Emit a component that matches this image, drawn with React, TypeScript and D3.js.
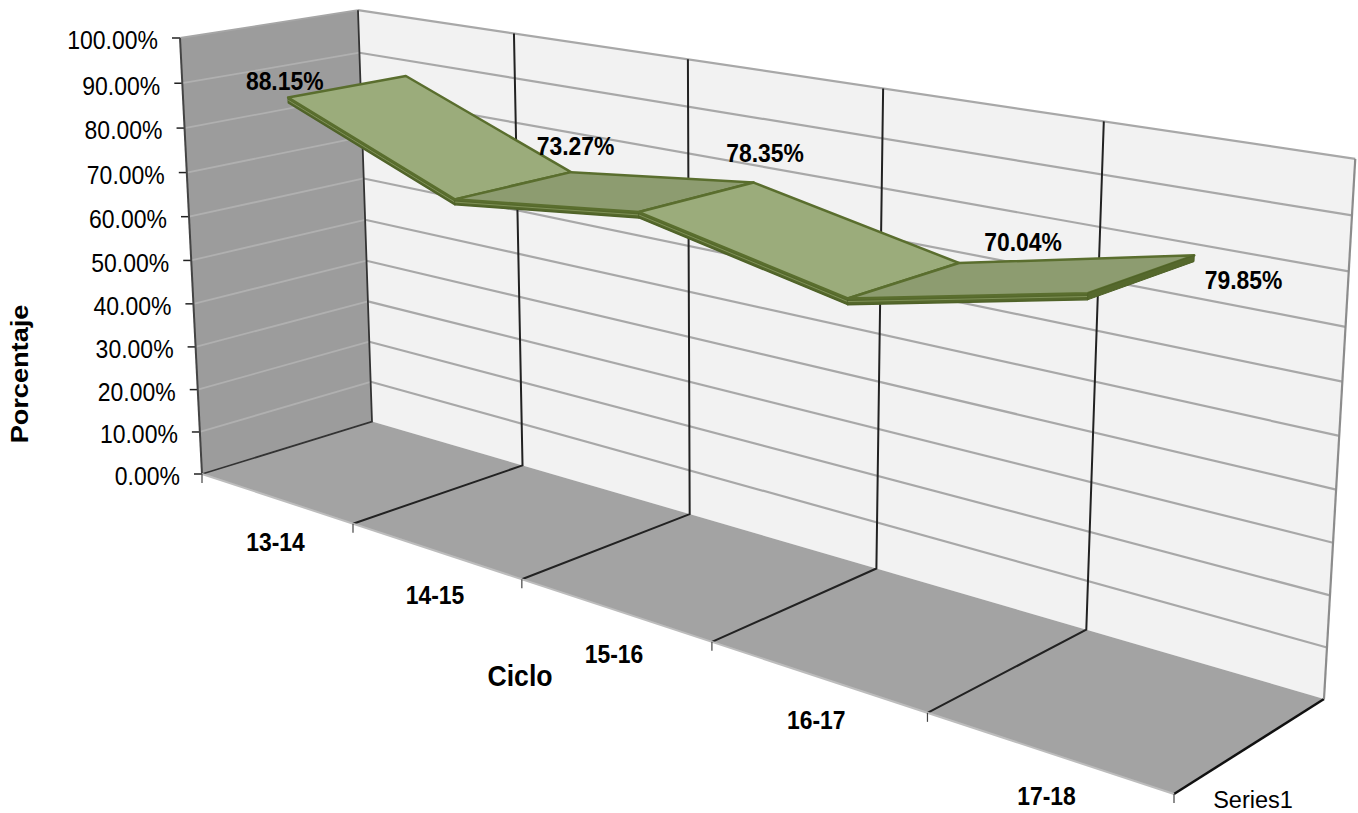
import * as d3 from "d3";

const categories = ["13-14", "14-15", "15-16", "16-17", "17-18"];
const values = [88.15, 73.27, 78.35, 70.04, 79.85];
const valueLabels = ["88.15%", "73.27%", "78.35%", "70.04%", "79.85%"];
const yTicks = [0, 10, 20, 30, 40, 50, 60, 70, 80, 90, 100];

type P = [number, number];

// corners of the 3D box as they land on the page
const FLb: P = [202, 474];
const FRb: P = [1174, 794];
const BLb: P = [372, 421.5];
const BRb: P = [1324, 699];
const FLt: P = [180, 38];
const BLt: P = [358, 10.5];

function meet(a: P, b: P, c: P, d: P): P {
  const d1 = [b[0] - a[0], b[1] - a[1]];
  const d2 = [d[0] - c[0], d[1] - c[1]];
  const den = d1[0] * d2[1] - d1[1] * d2[0];
  const t = ((c[0] - a[0]) * d2[1] - (c[1] - a[1]) * d2[0]) / den;
  return [a[0] + t * d1[0], a[1] + t * d1[1]];
}

const vx = meet(FLb, FRb, BLb, BRb);
const vy = meet(FLb, FLt, BLb, BLt);
const vz = meet(FLb, BLb, FRb, BRb);
const wx = (FRb[0] - FLb[0]) / (vx[0] - FRb[0]);
const wy = (FLt[1] - FLb[1]) / (vy[1] - FLt[1]);
const wz = (BLb[1] - FLb[1]) / (vz[1] - BLb[1]);

// u, v, w are all 0..1 inside the box
function project(u: number, v: number, w: number): P {
  const h = 1 + u * wx + v * wy + w * wz;
  return [
    (FLb[0] + u * wx * vx[0] + v * wy * vy[0] + w * wz * vz[0]) / h,
    (FLb[1] + u * wx * vx[1] + v * wy * vy[1] + w * wz * vz[1]) / h,
  ];
}

const xBand = d3.scaleBand<string>().domain(categories).range([0, 1]);
const xEdge = (i: number) => i * xBand.step();
const xMid = (i: number) => xBand(categories[i])! + xBand.bandwidth() / 2;
const yScale = d3.scaleLinear().domain([0, 100]).range([0, 1]);

const RIBBON_FRONT = 0.16;
const RIBBON_BACK = 0.825;
const RIBBON_LIFT = 0.6;
const RIBBON_DEPTH = 1.15;

const path = d3.line<P>();
const poly = (pts: P[]) => path(pts)! + "Z";

function Label(props: { x: number; y: number; size: number; sx?: number; bold?: boolean; anchor?: string; children: string }) {
  const { x, y, size, sx = 0.92, bold, anchor = "middle", children } = props;
  return (
    <text
      transform={`translate(${x},${y}) scale(${sx},1)`}
      fontFamily="'Liberation Sans', Arial, sans-serif"
      fontSize={size}
      fontWeight={bold ? "bold" : "normal"}
      textAnchor={anchor}
      dominantBaseline="central"
      fill="#000"
    >
      {children}
    </text>
  );
}

const labelOffsets: P[] = [
  [-65, -8],
  [60, -42],
  [66, -47],
  [117, -41],
  [100, 3],
];

export default function App() {
  const top = (v: number) => yScale(v + RIBBON_LIFT);
  const bottom = (v: number) => yScale(v + RIBBON_LIFT - RIBBON_DEPTH);
  const middle = (v: number) => yScale(v + RIBBON_LIFT - RIBBON_DEPTH / 2);
  const segs = values.slice(0, -1).map((v, i) => {
    const a = xMid(i);
    const b = xMid(i + 1);
    const next = values[i + 1];
    return {
      falling: next < v,
      top: [project(a, top(v), RIBBON_FRONT), project(b, top(next), RIBBON_FRONT), project(b, top(next), RIBBON_BACK), project(a, top(v), RIBBON_BACK)] as P[],
      side: [project(a, top(v), RIBBON_FRONT), project(b, top(next), RIBBON_FRONT), project(b, bottom(next), RIBBON_FRONT), project(a, bottom(v), RIBBON_FRONT)] as P[],
      mid: [project(a, middle(v), RIBBON_FRONT), project(b, middle(next), RIBBON_FRONT)] as P[],
    };
  });
  const last = values[values.length - 1];
  const n = categories.length;

  return (
    <svg
      width={1358}
      height={813}
      style={{ position: "absolute", left: 0, top: 0, background: "#fff" }}
    >
      {/* walls */}
      <path d={poly([project(0, 0, 1), project(1, 0, 1), project(1, 1, 1), project(0, 1, 1)])} fill="#f2f2f2" />
      <path d={poly([project(0, 0, 0), project(0, 0, 1), project(0, 1, 1), project(0, 1, 0)])} fill="#9c9c9c" />
      <path d={poly([project(0, 0, 0), project(1, 0, 0), project(1, 0, 1), project(0, 0, 1)])} fill="#a3a3a3" />

      {/* value gridlines */}
      {yTicks.map((t) => {
        const v = yScale(t);
        const p = project(0, v, 0);
        return (
          <g key={t}>
            <path d={path([p, project(0, v, 1)])!} stroke={t === 100 ? "#a6a6a6" : "#b0b0b0"} strokeWidth={1.8} fill="none" />
            {t > 0 && (
              <path d={path([project(0, v, 1), project(1, v, 1)])!} stroke="#a8a8a8" strokeWidth={2.2} fill="none" />
            )}
            <path d={path([p, [p[0] - 8, p[1]]])!} stroke="#222" strokeWidth={1.5} />
            <Label x={p[0] - 22} y={p[1] + 2.5} size={25} anchor="end">
              {`${t.toFixed(2)}%`}
            </Label>
          </g>
        );
      })}

      {/* category gridlines */}
      {d3.range(1, n).map((i) => (
        <path
          key={i}
          d={path([project(xEdge(i), 0, 0), project(xEdge(i), 0, 1), project(xEdge(i), 1, 1)])!}
          stroke="#222"
          strokeWidth={2}
          fill="none"
        />
      ))}

      {/* box edges */}
      <path d={path([project(0, 0, 0), project(0, 1, 0)])!} stroke="#444" strokeWidth={2} fill="none" />
      <path d={path([project(0, 1, 1), project(0, 0, 1), project(0, 0, 0)])!} stroke="#333" strokeWidth={1.8} fill="none" />
      <path d={path([project(1, 0, 0), project(1, 0, 1)])!} stroke="#111" strokeWidth={2.5} fill="none" />
      <path d={path([project(1, 0, 1), project(1, 1, 1)])!} stroke="#8c8c8c" strokeWidth={2.2} fill="none" />
      <path d={path([project(0, 0, 0), project(1, 0, 0)])!} stroke="#bcbcbc" strokeWidth={2} fill="none" />
      {d3.range(0, n + 1).map((i) => {
        const p = project(xEdge(i), 0, 0);
        return <path key={i} d={path([p, [p[0], p[1] + 9]])!} stroke="#444" strokeWidth={1.2} />;
      })}

      {/* ribbon */}
      {segs.map((s, i) => (
        <g key={i}>
          <path d={poly(s.side)} fill="#55682c" stroke="#4f6228" strokeWidth={1.5} strokeLinejoin="round" />
          <path d={path(s.mid)!} stroke="#8a9c62" strokeWidth={0.8} fill="none" />
          <path d={poly(s.top)} fill={s.falling ? "#9bac7b" : "#8d9c70"} stroke="#5a6e2e" strokeWidth={2.5} strokeLinejoin="round" />
        </g>
      ))}
      <path
        d={poly([
          project(xMid(n - 1), top(last), RIBBON_FRONT),
          project(xMid(n - 1), top(last), RIBBON_BACK),
          project(xMid(n - 1), bottom(last), RIBBON_BACK),
          project(xMid(n - 1), bottom(last), RIBBON_FRONT),
        ])}
        fill="#55682c"
        stroke="#4f6228"
        strokeLinejoin="round"
      />

      {/* data labels */}
      {values.map((v, i) => {
        const p = project(xMid(i), yScale(v), 0.5);
        return (
          <Label key={i} x={p[0] + labelOffsets[i][0]} y={p[1] + labelOffsets[i][1]} size={26} sx={0.88} bold>
            {valueLabels[i]}
          </Label>
        );
      })}

      {/* category labels */}
      {categories.map((c, i) => {
        const p = project(xMid(i), 0, 0);
        return (
          <Label key={c} x={p[0]} y={p[1] + 44} size={26} sx={0.88} bold>
            {c}
          </Label>
        );
      })}

      <Label x={1253} y={799} size={24} sx={0.98}>Series1</Label>
      <Label x={520} y={676} size={29} bold>Ciclo</Label>
      <text
        transform="translate(20,374) rotate(-90) scale(1.18,1)"
        fontFamily="'Liberation Sans', Arial, sans-serif"
        fontSize={23}
        fontWeight="bold"
        textAnchor="middle"
        dominantBaseline="central"
      >
        Porcentaje
      </text>
    </svg>
  );
}
